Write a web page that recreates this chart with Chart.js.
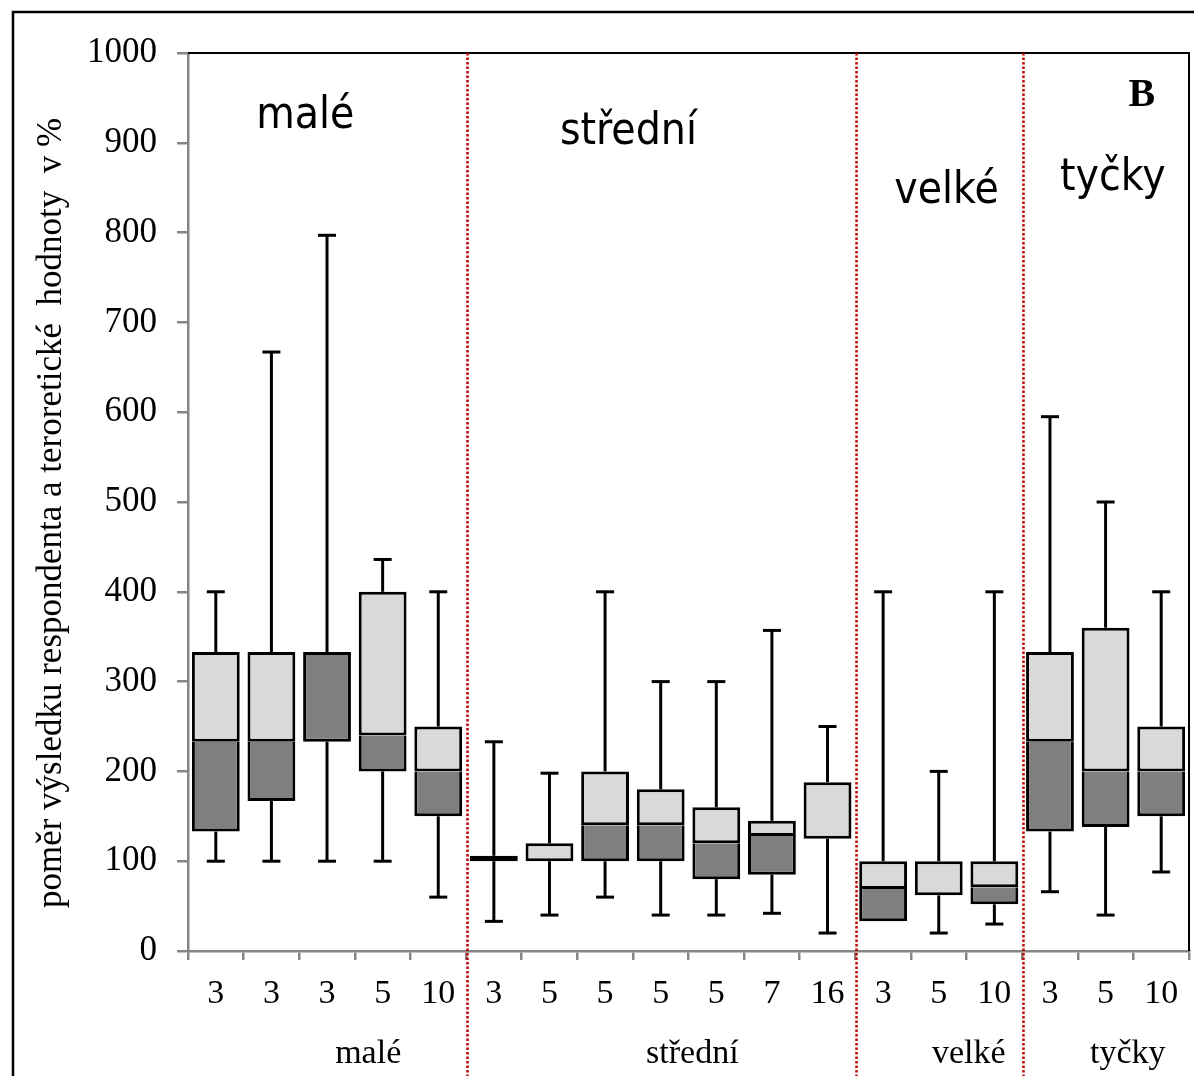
<!DOCTYPE html>
<html>
<head>
<meta charset="utf-8">
<script src="https://cdn.jsdelivr.net/npm/chart.js@4.4.0/dist/chart.umd.min.js"></script>
<style>
  html, body { margin: 0; padding: 0; background: #fff; }
  canvas { display: block; }
</style>
</head>
<body>
<canvas id="boxChart" width="1194" height="1076"></canvas>
<script>
// pocet respondentu v kategorii (popisky osy x)
const sizes = ['3', '3', '3', '5', '10', '3', '5', '5', '5', '5', '7', '16', '3', '5', '10', '3', '5', '10'];
const groups = ['malé', 'střední', 'velké', 'tyčky'];
// kde skupina konci (index posledni kategorie) - tam je cervena teckovana cara
const groupEnds = [4, 11, 14];

// krabicove grafy: minimum, dolni kvartil, median, horni kvartil, maximum
const minVals = [100, 100, 100, 100, 60, 33, 40, 60, 40, 40, 42, 20, 33, 20, 30, 66, 40, 88];
const q1Vals  = [133, 167, 233, 200, 150, 100, 100, 100, 100, 80, 85, 125, 33, 62, 52, 133, 138, 150];
const medVals = [233, 233, 333, 240, 200, 100, 100, 140, 140, 120, 128, 125, 69, 62, 71, 233, 200, 200];
const q3Vals  = [333, 333, 333, 400, 250, 106, 120, 200, 180, 160, 145, 188, 100, 100, 100, 333, 360, 250];
const maxVals = [400, 667, 797, 436, 400, 233, 198, 400, 300, 300, 357, 250, 400, 200, 400, 595, 500, 400];

const yTicks = [0, 100, 200, 300, 400, 500, 600, 700, 800, 900, 1000];

const lowerBox = q1Vals.map((q, i) => [q, medVals[i]]);
const upperBox = medVals.map((m, i) => [m, q3Vals[i]]);

const axisGray = '#868686';
const serif = '"Liberation Serif", "Times New Roman", serif';
const sans = '"DejaVu Sans Condensed", "DejaVu Sans", Tahoma, sans-serif';

const boxExtras = {
    id: 'boxExtras',
    beforeDatasetsDraw(chart) {
        // fousy (whiskers) pod krabicemi
        const { ctx, scales: { x, y } } = chart;
        ctx.save();
        ctx.strokeStyle = '#000';
        ctx.lineWidth = 3;
        ctx.lineCap = 'butt';
        for (let i = 0; i < sizes.length; i++) {
            const cx = x.getPixelForValue(i);
            const segs = [[minVals[i], q1Vals[i]], [q3Vals[i], maxVals[i]]];
            segs.forEach(([a, b]) => {
                if (a === b) return;
                ctx.beginPath();
                ctx.moveTo(cx, y.getPixelForValue(a));
                ctx.lineTo(cx, y.getPixelForValue(b));
                ctx.stroke();
            });
            [minVals[i], maxVals[i]].forEach(v => {
                if (v === q1Vals[i]) return;
                const py = y.getPixelForValue(v);
                ctx.beginPath();
                ctx.moveTo(cx - 9, py);
                ctx.lineTo(cx + 9, py);
                ctx.stroke();
            });
        }
        ctx.restore();
    },
    afterDraw(chart) {
        const { ctx, chartArea: area, scales: { x, y } } = chart;
        const half = (x.getPixelForValue(1) - x.getPixelForValue(0)) / 2;
        ctx.save();

        // vnejsi ramecek
        ctx.strokeStyle = '#000';
        ctx.lineWidth = 2.5;
        ctx.beginPath();
        ctx.moveTo(13, chart.height);
        ctx.lineTo(13, 12);
        ctx.lineTo(chart.width, 12);
        ctx.stroke();

        // horni a prava hrana plochy grafu
        ctx.lineWidth = 2;
        ctx.beginPath();
        ctx.moveTo(area.left, area.top);
        ctx.lineTo(area.right, area.top);
        ctx.lineTo(area.right, area.bottom);
        ctx.stroke();

        // cervene teckovane oddelovace skupin
        ctx.strokeStyle = '#c00000';
        ctx.lineWidth = 2.5;
        ctx.setLineDash([2.5, 2]);
        groupEnds.forEach(i => {
            const px = Math.round(x.getPixelForValue(i) + half) + 1.5;
            ctx.beginPath();
            ctx.moveTo(px, area.top);
            ctx.lineTo(px, chart.height);
            ctx.stroke();
        });
        ctx.setLineDash([]);

        // nazvy skupin v grafu
        ctx.fillStyle = '#000';
        ctx.textAlign = 'center';
        ctx.textBaseline = 'alphabetic';
        ctx.font = '44px ' + sans;
        const inside = [[1.61, 916], [7.42, 899], [13.14, 833], [16.13, 847]];
        groups.forEach((g, k) => {
            ctx.fillText(g, x.getPixelForValue(inside[k][0]), y.getPixelForValue(inside[k][1]));
        });
        ctx.font = 'bold 40px ' + serif;
        ctx.fillText('B', x.getPixelForValue(16.65), y.getPixelForValue(941));

        // nazvy skupin pod osou
        ctx.font = '34px ' + serif;
        const below = [2.74, 8.57, 13.54, 16.4];
        groups.forEach((g, k) => {
            ctx.fillText(g, x.getPixelForValue(below[k]), area.bottom + 112);
        });

        // popisek osy y
        ctx.translate(52, (area.top + area.bottom) / 2 + 11);
        ctx.rotate(-Math.PI / 2);
        ctx.textBaseline = 'middle';
        ctx.font = '35px ' + serif;
        ctx.fillText('poměr výsledku respondenta a teroretické  hodnoty  v %', 0, 0);
        ctx.restore();
    }
};

// hranice mezi dolni a horni krabici kresli jen jedna z nich (median)
const lowerBorder = c => {
    const i = c.dataIndex;
    const top = medVals[i] === q3Vals[i] ? 3 : 0;
    return { top: top, bottom: 3, left: 3, right: 3 };
};

new Chart(document.getElementById('boxChart'), {
    type: 'bar',
    data: {
        labels: sizes,
        datasets: [
            {
                label: 'Q1 - medián',
                data: lowerBox,
                backgroundColor: '#7f7f7f',
                borderColor: '#000',
                borderWidth: lowerBorder,
                borderSkipped: false,
                grouped: false,
                barPercentage: 0.86,
                categoryPercentage: 1
            },
            {
                label: 'medián - Q3',
                data: upperBox,
                backgroundColor: '#d9d9d9',
                borderColor: '#000',
                borderWidth: 3,
                borderSkipped: false,
                grouped: false,
                barPercentage: 0.86,
                categoryPercentage: 1
            }
        ]
    },
    options: {
        responsive: false,
        devicePixelRatio: 1,
        animation: false,
        layout: { padding: { top: 53, right: 5, left: 0, bottom: 0 } },
        plugins: {
            legend: { display: false },
            tooltip: { enabled: false }
        },
        scales: {
            x: {
                afterFit: s => { s.height = 125; },
                grid: {
                    drawOnChartArea: false,
                    offset: true,
                    color: axisGray,
                    lineWidth: 2.5,
                    tickLength: 9
                },
                border: { color: axisGray, width: 2.5 },
                ticks: {
                    color: '#000',
                    padding: 14,
                    maxRotation: 0,
                    autoSkip: false,
                    font: { family: serif, size: 34 }
                }
            },
            y: {
                min: 0,
                max: 1000,
                afterFit: s => { s.width = 188; },
                afterBuildTicks: s => { s.ticks = yTicks.map(v => ({ value: v })); },
                grid: {
                    drawOnChartArea: false,
                    color: axisGray,
                    lineWidth: 2.5,
                    tickLength: 11
                },
                border: { color: axisGray, width: 2.5 },
                ticks: {
                    color: '#000',
                    padding: 20,
                    callback: v => String(v),
                    font: { family: serif, size: 35 }
                }
            }
        }
    },
    plugins: [boxExtras]
});
</script>
</body>
</html>
